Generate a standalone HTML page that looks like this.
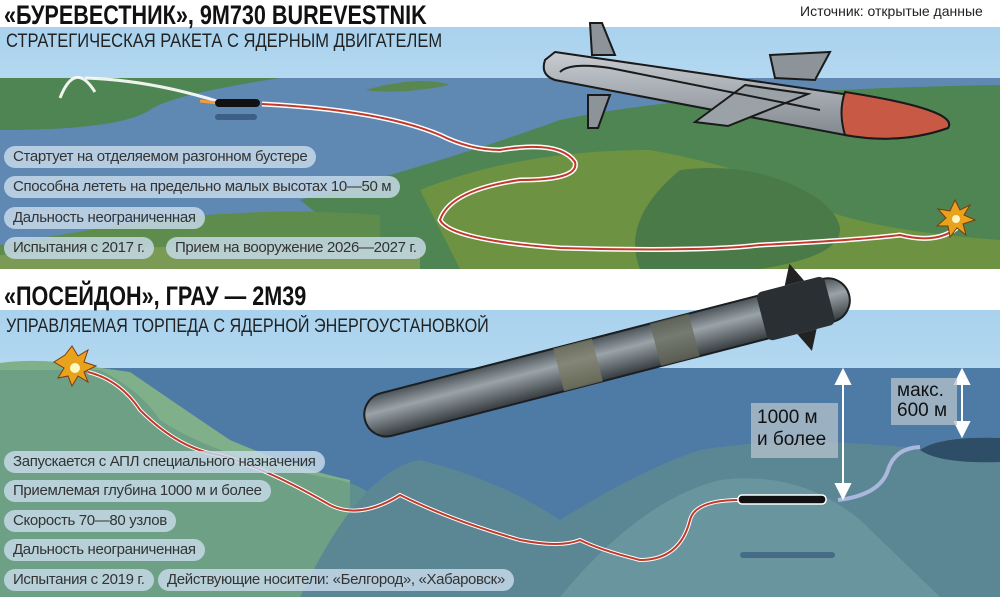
<!DOCTYPE html>
<html><head><meta charset="utf-8"><style>
body{margin:0;width:1000px;height:597px;overflow:hidden;background:#fff;font-family:"Liberation Sans",sans-serif}
svg{position:absolute;left:0;top:0}
.t{position:absolute;white-space:nowrap;color:#222;transform-origin:0 0}
.pill{position:absolute;height:22px;line-height:22px;border-radius:11px;background:rgba(200,220,235,0.82);padding:0 9px;font-size:15px;letter-spacing:-0.35px;color:#333;white-space:nowrap}
</style></head><body>
<svg width="1000" height="597" viewBox="0 0 1000 597">
<defs>
<linearGradient id="sky" x1="0" y1="0" x2="0" y2="1"><stop offset="0" stop-color="#a9d2ee"/><stop offset="1" stop-color="#dbeef8"/></linearGradient>
<linearGradient id="tor" x1="0" y1="0" x2="0" y2="1"><stop offset="0" stop-color="#4a5257"/><stop offset=".4" stop-color="#9aa3a8"/><stop offset="1" stop-color="#353b3f"/></linearGradient>
<linearGradient id="mis" x1="0" y1="0" x2="0" y2="1"><stop offset="0" stop-color="#c9cdd2"/><stop offset="1" stop-color="#7f868d"/></linearGradient>
</defs>
<rect x="0" y="27" width="1000" height="242" fill="url(#sky)"/>
<rect x="0" y="78" width="1000" height="191" fill="#5f88b3"/>
<path d="M0 78 L280 78 Q170 95 150 110 Q120 130 0 130Z" fill="#4f8553"/>
<path d="M365 90 Q420 75 450 85 Q400 95 365 90Z" fill="#58884f"/>
<path d="M560 120 Q700 90 1000 85 L1000 269 L380 269 Q350 240 300 200 Q450 160 560 120Z" fill="#4f8552"/>
<path d="M420 190 Q520 150 650 150 Q760 170 800 200 Q860 230 1000 240 L1000 269 L460 269Z" fill="#6d9342"/>
<path d="M680 170 Q760 160 820 200 Q880 250 760 269 L640 269 Q620 220 680 170Z" fill="#4a7a48"/>
<path d="M120 225 Q250 205 380 215 L380 269 L0 269 L0 245Z" fill="#5d8c4c"/>
<path d="M0 255 Q200 240 420 250 L420 269 L0 269Z" fill="#7a9a56"/>
<path d="M60 98 Q75 60 95 92 M85 78 Q150 80 220 102" stroke="#fff" stroke-width="3" fill="none" opacity=".9"/>
<path d="M200 101 L218 103" stroke="#f49b3a" stroke-width="3"/>
<rect x="215" y="99" width="45" height="8" rx="4" fill="#111"/>
<rect x="215" y="114" width="42" height="6" rx="3" fill="#3d5f86"/>
<path d="M262 104 Q380 110 440 135 Q470 150 500 150 Q560 140 575 162 Q580 180 520 180 Q450 190 440 220 Q450 240 560 248 Q700 252 760 245 Q860 240 900 235 Q940 245 960 225" stroke="#fff" stroke-width="5" fill="none"/>
<path d="M262 104 Q380 110 440 135 Q470 150 500 150 Q560 140 575 162 Q580 180 520 180 Q450 190 440 220 Q450 240 560 248 Q700 252 760 245 Q860 240 900 235 Q940 245 960 225" stroke="#c0392b" stroke-width="2" fill="none"/>
<polygon points="955,200 960,210 970,205 964,215 975,220 963,224 966,235 957,228 950,237 948,226 937,226 946,218 938,209 950,211" fill="#e8a21c" stroke="#7a3a12"/>
<circle cx="956" cy="219" r="4" fill="#fff8c0"/>
<g stroke="#1a1a1a" stroke-width="2">
<polygon points="590,23 602,23 615,55 592,55" fill="#8c9399"/>
<polygon points="588,95 610,95 598,128 588,128" fill="#8c9399"/>
<path d="M555 52 L850 95 Q960 110 948 128 Q900 145 845 135 L555 80 Q540 75 545 60Z" fill="url(#mis)"/>
<path d="M845 92 Q960 110 948 128 Q900 145 845 135 Q838 112 845 92Z" fill="#c85a45"/>
<polygon points="770,55 830,52 815,80 775,78" fill="#8c9399"/>
<polygon points="745,85 808,94 728,126 695,122" fill="#9aa1a7"/>
<path d="M560 72 Q570 62 610 68 L820 110" fill="none"/>
</g>
<rect x="0" y="310" width="1000" height="287" fill="url(#sky)"/>
<rect x="0" y="368" width="1000" height="229" fill="#4e7ba5"/>
<path d="M0 363 Q40 358 80 365 L130 372 Q200 420 230 440 Q300 470 350 480 L350 597 L0 597Z" fill="#7fb08a"/>
<path d="M0 370 L100 370 Q140 390 160 420 Q220 460 340 480 Q420 500 360 597 L0 597Z" fill="#669a84" opacity=".7"/>
<path d="M300 597 Q360 470 420 460 Q500 480 560 520 Q640 470 700 450 Q820 430 1000 460 L1000 597Z" fill="#5b8795"/>
<path d="M560 597 Q640 500 720 480 Q800 470 860 520 L940 597Z" fill="#6d9aa0" opacity=".8"/>
<polygon points="65,355 72,346 78,356 88,350 84,362 96,366 84,372 88,382 78,376 72,386 68,376 58,378 64,368 54,362" fill="#e8a21c" stroke="#7a3a12"/>
<circle cx="75" cy="368" r="5" fill="#fff8c0"/>
<path d="M88 372 Q120 380 140 410 Q180 450 220 455 Q270 470 330 505 Q360 520 400 495 Q450 520 520 540 Q560 548 580 540 Q600 550 640 560 Q680 560 690 520 Q695 500 740 500" stroke="#fff" stroke-width="4" fill="none"/>
<path d="M88 372 Q120 380 140 410 Q180 450 220 455 Q270 470 330 505 Q360 520 400 495 Q450 520 520 540 Q560 548 580 540 Q600 550 640 560 Q680 560 690 520 Q695 500 740 500" stroke="#c0392b" stroke-width="2" fill="none"/>
<path d="M838 500 Q880 495 888 470 Q895 448 920 447" stroke="#a9b8dc" stroke-width="4" fill="none"/>
<rect x="738" y="495" width="88" height="9" rx="4" fill="#111" stroke="#fff" stroke-width="1.5"/>
<path d="M920 450 Q940 436 1000 438 L1000 462 Q940 464 920 450Z" fill="#2e4d66"/>
<rect x="740" y="552" width="95" height="6" rx="3" fill="#3c6080" opacity=".8"/>
<g stroke="#fff" stroke-width="2" fill="#fff">
<line x1="843" y1="374" x2="843" y2="494"/><polygon points="836,384 843,370 850,384"/><polygon points="836,484 843,498 850,484"/>
<line x1="962" y1="374" x2="962" y2="432"/><polygon points="955,384 962,370 969,384"/><polygon points="955,422 962,436 969,422"/>
</g>
<rect x="751" y="403" width="87" height="55" fill="#b6c3cc" opacity=".75"/>
<rect x="891" y="378" width="66" height="47" fill="#b6c3cc" opacity=".75"/>
<g transform="translate(365,420) rotate(-14.5)">
<rect x="0" y="-22" width="500" height="44" rx="22" fill="url(#tor)" stroke="#1b1f22" stroke-width="2"/>
<rect x="200" y="-22" width="40" height="44" fill="#7a7a62" opacity=".7"/>
<rect x="300" y="-22" width="40" height="44" fill="#666a58" opacity=".7"/>
<rect x="410" y="-25" width="70" height="50" rx="6" fill="#2a2f33"/>
<polygon points="440,-25 450,-45 460,-25" fill="#222"/><polygon points="440,25 450,45 460,25" fill="#222"/>
</g>
</svg>
<div class="t" style="left:4px;top:0px;font-size:27px;font-weight:bold;color:#111;transform:scaleX(.8)">«БУРЕВЕСТНИК», 9М730 BUREVESTNIK</div>
<div class="t" style="left:800px;top:3px;font-size:14px;color:#222">Источник: открытые данные</div>
<div class="t" style="left:6px;top:31px;font-size:19px;color:#222;transform:scaleX(.87)">СТРАТЕГИЧЕСКАЯ РАКЕТА С ЯДЕРНЫМ ДВИГАТЕЛЕМ</div>
<div class="pill" style="left:4px;top:146px">Стартует на отделяемом разгонном бустере</div>
<div class="pill" style="left:4px;top:176px">Способна лететь на предельно малых высотах 10—50 м</div>
<div class="pill" style="left:4px;top:207px">Дальность неограниченная</div>
<div class="pill" style="left:4px;top:237px">Испытания с 2017 г.</div>
<div class="pill" style="left:166px;top:237px">Прием на вооружение 2026—2027 г.</div>
<div class="t" style="left:4px;top:281px;font-size:27px;font-weight:bold;color:#111;transform:scaleX(.8)">«ПОСЕЙДОН», ГРАУ — 2М39</div>
<div class="t" style="left:6px;top:316px;font-size:19px;color:#222;transform:scaleX(.85)">УПРАВЛЯЕМАЯ ТОРПЕДА С ЯДЕРНОЙ ЭНЕРГОУСТАНОВКОЙ</div>
<div class="pill" style="left:4px;top:451px">Запускается с АПЛ специального назначения</div>
<div class="pill" style="left:4px;top:480px">Приемлемая глубина 1000 м и более</div>
<div class="pill" style="left:4px;top:510px">Скорость 70—80 узлов</div>
<div class="pill" style="left:4px;top:539px">Дальность неограниченная</div>
<div class="pill" style="left:4px;top:569px">Испытания с 2019 г.</div>
<div class="pill" style="left:158px;top:569px">Действующие носители: «Белгород», «Хабаровск»</div>
<div class="t" style="left:757px;top:407px;font-size:19px;line-height:22px;color:#111">1000 м<br>и более</div>
<div class="t" style="left:897px;top:381px;font-size:19px;line-height:20px;color:#111">макс.<br>600 м</div>
</body></html>
